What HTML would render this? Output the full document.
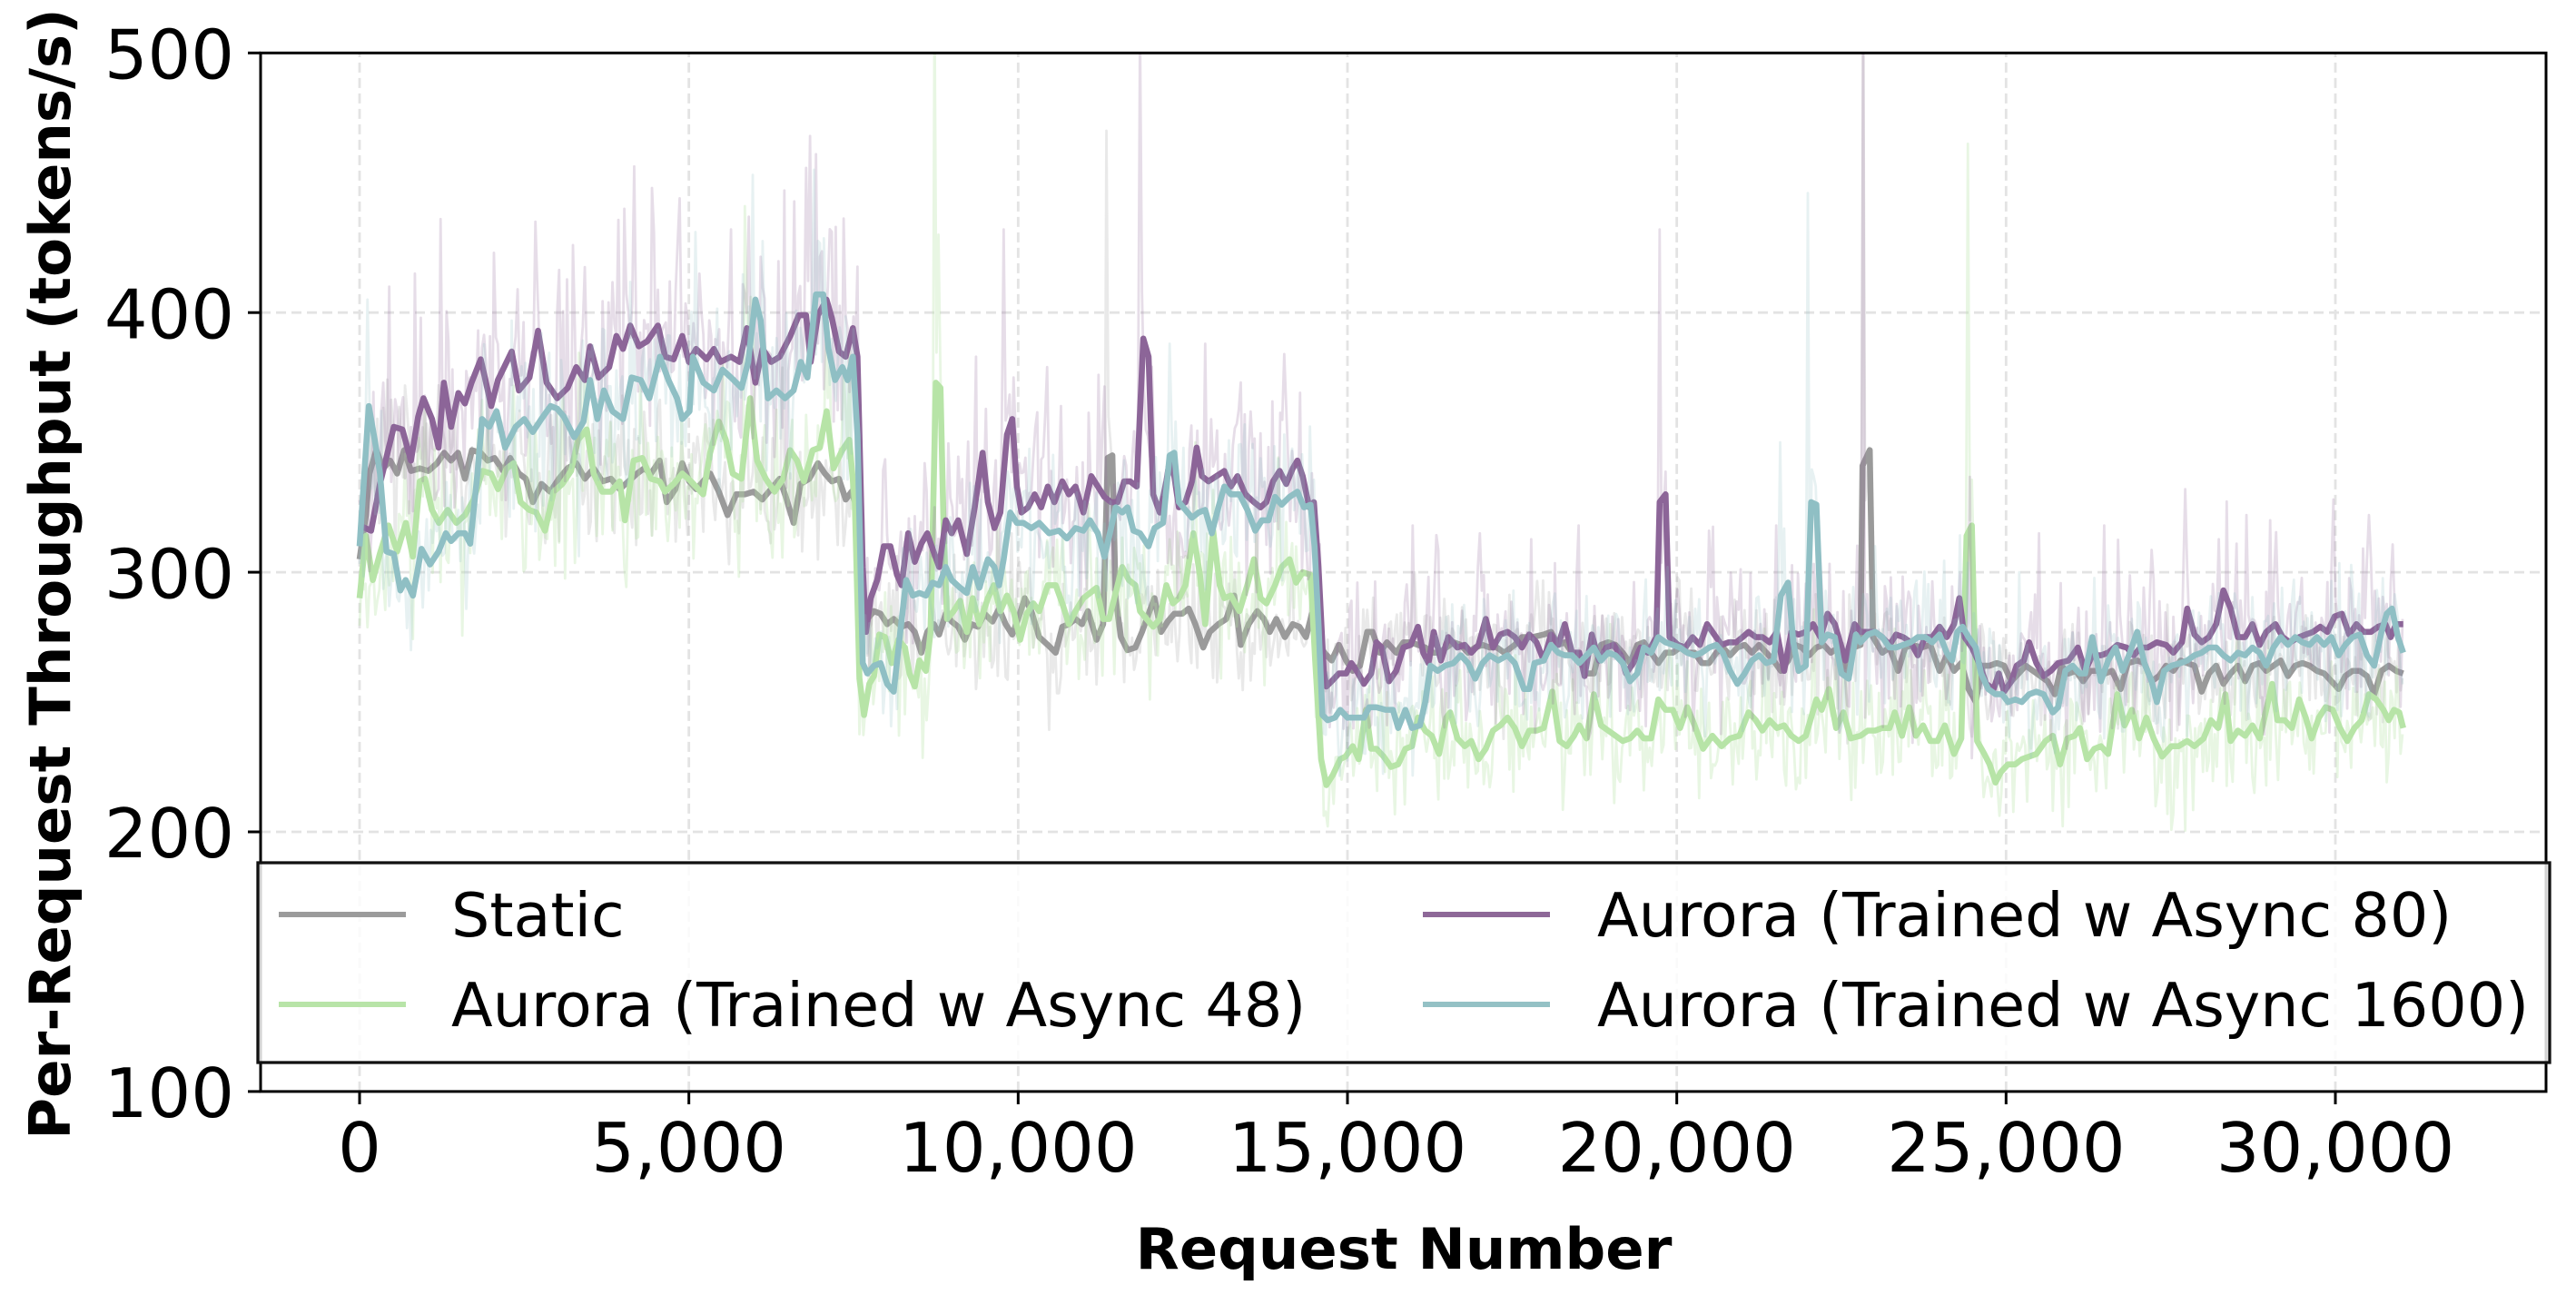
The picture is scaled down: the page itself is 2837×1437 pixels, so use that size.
<!DOCTYPE html>
<html>
<head>
<meta charset="utf-8">
<style>
html,body{margin:0;padding:0;background:#fff;}
svg{display:block;}
text{font-family:"DejaVu Sans","Liberation Sans",sans-serif;fill:#000;}
</style>
</head>
<body>
<svg id="chart" xmlns="http://www.w3.org/2000/svg" width="2837" height="1437" viewBox="0 0 2837 1437">
<defs>
<clipPath id="plotclip"><rect x="287" y="58.3" width="2517" height="1143.6"/></clipPath>
</defs>
<rect x="0" y="0" width="2837" height="1437" fill="#fff"/>

<!-- grid -->
<g stroke="#e3e3e3" stroke-width="2.8" stroke-dasharray="11 6" fill="none">
<line x1="396" y1="1201.9" x2="396" y2="58.3"/>
<line x1="758.67" y1="1201.9" x2="758.67" y2="58.3"/>
<line x1="1121.33" y1="1201.9" x2="1121.33" y2="58.3"/>
<line x1="1484" y1="1201.9" x2="1484" y2="58.3"/>
<line x1="1846.67" y1="1201.9" x2="1846.67" y2="58.3"/>
<line x1="2209.33" y1="1201.9" x2="2209.33" y2="58.3"/>
<line x1="2572" y1="1201.9" x2="2572" y2="58.3"/>
<line x1="287" y1="344.2" x2="2804" y2="344.2"/>
<line x1="287" y1="630.1" x2="2804" y2="630.1"/>
<line x1="287" y1="916" x2="2804" y2="916"/>
</g>

<!-- data -->
<g clip-path="url(#plotclip)">
<g id="data" transform="matrix(7.2533 0 0 -2.859 396 1487.8)" fill="none" stroke-linejoin="round" stroke-linecap="butt">
<polyline id="s-gray" vector-effect="non-scaling-stroke" stroke="#9a9a9a" stroke-width="6.6" points="0,305 0.96,322 1.49,338 2.54,347 3.6,340 4.65,343 5.71,338 6.77,347 7.82,339 9.14,340 10.46,339 11.78,342 12.84,346 13.89,343 14.95,346 16,336 17.06,347 18.38,346 19.44,343 20.5,344 21.81,339 22.87,344 24.19,338 25.25,336 26.3,327 27.62,334 28.94,331 30.26,336 31.58,340 32.9,342 34.22,336 35.54,340 36.86,335 38.18,336 39.5,332 40.82,335 42.14,338 43.2,340 44.25,338 45.57,343 46.63,327 47.95,332 49,342 50.06,335 51.12,332 52.17,335 53.23,338 54.55,331 55.87,322 57.19,330 58.51,330 59.83,331 61.15,328 62.47,332 63.79,336 64.85,328 65.9,319 66.96,334 68.28,336 69.6,342 70.65,338 71.71,335 72.77,336 73.82,328 74.7,331 75.5,325 76.3,290 77.1,282 78.1,285 79.1,284 80.1,280 81.1,282 82.3,279 83.3,280 84.3,277 85.3,269 86.2,277 87.2,280 88,276 89,284 89.9,281 90.9,279 91.9,274 92.9,280 93.9,279 94.9,284 96.1,281 97.1,286 98.1,280 99.1,276 100,282 101,290 102,285 103.2,275 104.5,272 105.7,269 106.7,279 107.7,280 108.7,282 109.7,280 110.6,285 111.9,274 112.9,280 113.6,344 114.3,345 114.8,290 115.6,275 116.6,270 117.8,271 118.8,277 119.8,284 120.7,290 121.7,277 122.7,281 123.7,284 124.9,284 125.9,286 126.9,280 128.1,271 129.1,277 130.4,280 131.6,282 132.8,291 133.8,272 135,280 136.3,285 137.3,282 138.2,277 139.2,282 140.5,275 141.7,280 142.7,279 143.7,275 144.6,284 145.7,272 146.5,269 147.6,266 148.7,272 149.8,266 150.8,262 151.9,264 153,277 153.8,277 154.9,269 156,273 157.4,269 158.5,273 159.6,273 160.7,272 161.8,271 162.8,269 163.9,269 165,271 166.1,273 167.2,272 168.3,269 169.4,271 170.5,272 171.6,271 172.7,271 173.8,269 175.4,272 176.5,275 178.1,275 179.8,276 180.9,277 182,272 183,273 184.1,269 185.2,266 186.3,261 187.4,261 188.5,272 189.6,273 190.7,272 191.8,269 192.9,265 194,272 195,273 196.1,269 197.2,265 198.3,269 199.4,269 200.5,271 201.6,269 202.7,269 203.8,265 204.9,265 206,269 207,271 208.1,268 209.2,271 210.3,272 211.4,269 212.5,272 213.6,269 214.7,266 215.8,262 216.9,266 218,272 219,271 220.1,268 221.2,271 222.3,272 223.4,269 224.5,271 225.6,262 226.8,271 227.9,272 228.2,341 229.3,347 229.8,275 231.2,269 232.3,271 233.6,262 234.7,271 235.8,272 237.2,271 238.5,272 239.9,262 241,268 242.1,262 243.2,265 244.3,255 245.4,250 246.4,264 247.5,264 248.6,265 249.7,264 250.8,258 251.9,261 253,264 254.1,262 255.2,260 256.3,258 257.4,253 258.4,264 259.5,261 260.6,262 261.7,258 262.8,262 263.9,262 265,261 266.1,262 267.4,255 268.5,265 269.9,266 271,265 272.1,258 273.2,260 274.3,264 275.4,262 276.5,266 277.5,265 278.6,264 279.7,254 280.8,261 281.9,264 283,257 284.1,261 285.2,264 286.3,258 287.4,264 288.5,265 289.5,262 290.6,264 291.7,266 292.8,260 293.9,264 295,265 296.1,264 297.2,262 298.3,261 299.4,258 300.5,255 301.5,260 302.6,262 303.7,262 304.8,260 305.9,253 307,262 308.1,264 309.2,262 310.3,261"/>
<polyline id="s-green" vector-effect="non-scaling-stroke" stroke="#b7e4a7" stroke-width="6.6" points="0,290 0.96,314 2.01,297 3.07,307 4.39,318 5.71,308 7.03,319 8.09,306 9.14,335 9.93,336 10.99,324 12.05,319 13.37,324 14.69,319 16,322 17.33,328 18.65,339 19.97,338 21.02,332 22.34,340 23.4,342 24.45,327 25.77,324 26.83,323 28.15,316 29.47,331 30.79,334 32.11,339 33.17,351 34.49,355 35.54,338 36.86,331 38.18,331 39.5,335 40.29,320 41.61,343 42.93,344 44.25,336 45.57,335 46.37,331 47.69,334 49,338 50.33,335 52.17,330 53.23,346 54.55,358 55.61,351 56.66,338 57.98,336 59.3,367 60.36,343 61.68,336 63,331 64.32,336 65.37,347 66.43,343 67.49,335 68.81,347 69.86,348 70.92,362 71.97,340 73.29,347 74.35,351 75.2,327 75.9,259 76.6,245 77.4,257 78.1,260 78.9,276 79.8,275 80.8,265 81.8,274 82.8,271 83.5,261 84.3,256 85,266 86,262 86.7,277 87.5,373 88.2,371 88.7,315 89.2,282 90.2,285 91.2,289 92.2,277 93.1,290 94.1,280 95.4,290 96.3,295 97.3,285 98.3,291 99.3,285 100.3,274 101.3,284 102.3,288 103.2,285 104.5,295 105.7,295 106.7,288 107.7,280 108.7,285 109.9,290 110.9,292 111.9,294 112.9,282 113.8,282 114.8,292 115.8,302 116.8,297 117.8,295 118.5,285 119.5,282 120.5,279 121.5,282 122.5,295 123.5,288 124.4,290 125.4,295 126.6,315 127.6,299 128.4,280 129.6,316 130.6,295 131.3,290 132.3,291 133.6,285 134.8,295 135.8,305 136.8,290 137.7,288 139,295 140,302 141.2,305 142.2,296 143.2,300 144.4,299 145.1,266 146,228 146.8,218 147.8,222 148.9,228 149.7,229 150.8,233 151.7,228 152.8,247 153.6,232 154.4,232 155.5,229 156.6,225 157.7,226 158.8,232 159.8,233 160.7,244 161.8,239 162.8,237 163.9,230 165,244 165.6,246 166.7,236 167.8,233 168.8,235 169.9,228 171,232 172.1,239 173.2,241 174.3,244 175.4,240 176.5,233 177.6,239 178.7,239 179.8,240 181.1,254 182.2,235 183.3,233 184.4,237 185.2,241 186.3,236 187.4,253 188.5,241 189.6,239 190.7,237 191.8,235 192.9,236 194,239 195,236 196.1,236 197.2,251 198.3,247 199.4,247 200.5,240 201.6,248 202.7,241 204,232 205.4,237 206.8,233 208.1,236 209.5,237 210.9,246 212,243 213,239 214.1,243 215.2,240 216.3,241 217.4,237 218.5,235 219.6,237 221.2,251 222,247 223.1,255 224.2,240 225.3,246 226.4,236 227.9,237 229,239 230.1,239 231.2,240 232.3,240 233.1,246 234.2,237 235.3,248 236.3,237 237.4,241 238.5,235 239.6,235 240.7,241 242.1,230 243.2,236 244,314 244.8,318 245.6,235 246.7,230 247.5,226 248.4,219 249.2,223 250.3,226 251.4,226 252.4,228 253.5,229 254.6,230 256,235 257.1,237 258.2,226 259.3,236 260.4,237 261.2,240 262.3,228 263.4,232 264.4,233 265.5,230 266.9,253 268,241 269.1,247 270.2,236 271.3,244 272.4,236 273.7,229 275.1,233 276.2,233 277.5,235 278.6,233 280,236 281.1,243 282.2,240 283.3,253 284.1,235 285.2,239 286.3,237 287.4,241 288.5,236 289.5,247 290.4,257 291.2,243 292.3,243 293.4,240 294.5,251 295.5,244 296.4,236 297.5,244 298.5,248 299.6,247 300.7,240 301.8,235 302.9,240 304,243 305.1,253 306.2,251 307.3,247 308.1,243 308.9,247 309.7,246 310.3,240"/>
<polyline id="s-purple" vector-effect="non-scaling-stroke" stroke="#8c6598" stroke-width="6.6" points="0,318 1.75,316 3.1,334 5.2,356 6.5,355 7.8,343 8.9,360 9.7,367 11,359 12,348 12.8,373 13.9,356 15,369 16,365 17,373 18.4,382 20,364 21,374 23.1,385 24.2,370 25.8,375 27.1,393 28.4,373 30,367 31.6,371 32.9,379 34.2,374 35,387 36.3,375 37.9,379 39,391 40,386 41.1,395 42.4,387 43.7,389 45.3,395 46.4,383 47.7,382 49,391 50,381 51.1,386 52.7,382 53.8,386 54.8,381 56.4,383 57.7,381 58.8,394 60.1,373 61.2,386 62.5,381 63.8,383 65.4,391 66.7,399 67.8,399 68.5,381 69.6,399 70.9,405 71.7,398 72.8,385 73.8,383 74.9,394 75.6,383 76.4,302 76.9,277 77.6,290 78.6,297 79.6,310 80.6,310 81.6,299 82.3,295 83.3,315 84.3,304 85.3,311 86.2,315 87,309 88,302 89,320 89.9,315 90.9,320 92.2,307 93.4,325 94.6,346 95.4,327 96.4,317 97.3,323 98.3,353 99.1,359 99.8,333 100.5,323 101.5,325 102.5,330 103.5,325 104.5,333 105.5,327 106.7,335 107.7,330 108.7,333 109.9,323 111.1,337 112.1,333 113.1,329 114.1,327 115.1,327 116.1,335 117,335 118,333 119,390 119.8,383 120.5,330 121.5,323 122.5,335 123,343 123.7,337 124.4,325 125.4,327 126.4,335 127.1,348 127.9,337 128.9,335 130.1,337 131.3,339 132.3,333 133.3,337 134.5,330 135.8,327 136.8,325 137.7,327 138.7,335 139.7,339 140.7,334 141.7,340 142.4,343 143.2,337 144.2,325 144.9,327 145.6,302 146.4,262 146.8,256 147.6,258 148.7,261 149.8,261 150.6,265 151.4,262 152.5,257 153.6,261 154.4,273 155.2,271 156.3,258 157.4,262 158.5,271 159.6,272 160.7,279 161.5,269 162.3,265 163.1,277 164.2,266 165.3,275 166.7,271 167.8,272 168.8,269 169.9,272 171,282 172.1,271 173.2,276 174.3,277 175.4,275 176.5,271 177.6,276 178.7,273 179.8,266 180.9,276 182,272 183,280 184.1,269 185.2,269 186,260 187.1,276 188.2,266 189.3,271 190.4,272 191.5,268 192.3,261 193.4,265 194.5,271 195.6,269 196.9,275 197.4,327 198.3,330 198.9,275 200.2,272 201.3,271 202.4,275 203.5,272 204.6,280 205.7,276 206.8,272 207.9,273 209,273 210,275 210.9,277 212,275 213,275 214.1,273 215.2,277 216.3,262 217.4,277 218.5,276 219.6,277 220.7,280 221.8,275 222.9,284 224,280 225.6,266 227,280 227.9,277 229,277 230.1,277 231.2,275 232.3,272 233.3,276 234.4,275 235.5,273 236.6,268 237.7,275 238.8,275 239.9,279 241,275 242.1,280 242.9,290 243.7,275 244.8,271 245.9,265 247,257 248.1,255 248.9,261 249.7,254 250.8,258 251.6,264 252.7,266 253.5,273 254.6,265 255.7,260 256.8,262 257.9,265 259.5,266 260.9,271 262,262 263.1,268 264.4,268 265.5,269 266.9,272 268.3,271 269.4,268 270.4,271 271.5,271 272.9,273 274.3,272 275.4,269 276.7,273 277.5,286 278.6,276 279.7,273 280.8,275 281.9,280 283,293 284.1,286 285.2,275 286.3,275 287.4,280 288.5,272 289.5,277 290.9,280 292,275 293.1,273 294.5,275 295.5,276 296.6,277 297.7,279 298.8,277 299.9,283 301,284 302.1,276 303.2,280 304.3,277 305.4,277 306.5,279 307.6,280 308.4,275 309.2,280 310.3,280"/>
<polyline id="s-teal" vector-effect="non-scaling-stroke" stroke="#8fbfc4" stroke-width="6.6" points="0,310 1.4,364 2.3,351 3.1,338 4.1,308 5.2,307 6.2,293 7,297 8.1,291 9.4,309 10.7,303 12,308 13.1,315 13.9,312 15,315 16,315 16.8,311 17.9,338 18.6,359 19.7,356 20.8,362 22.1,348 23.7,356 25,359 26.3,354 27.6,359 29,364 30,363 31,360 32.6,352 34,358 35,374 36.1,359 37.1,370 38.4,362 40,359 41.3,375 42.7,374 44,367 45.6,383 46.9,374 48.2,367 49,359 50.1,362 50.6,383 52.2,373 53.8,370 55.1,378 56.4,375 58,371 59,381 60.1,405 60.9,397 62,367 63.3,370 64.6,367 65.9,370 67,381 68,375 69.3,407 70.4,407 71.2,386 72.2,374 73.3,379 74.1,374 74.9,383 75.6,353 76.4,265 77.1,261 78.1,264 79.1,265 80.1,257 81.1,254 82.1,277 83,297 84,291 85,292 86,291 87,296 88,295 89,302 89.9,297 91.2,294 92.2,292 93.1,302 94.1,294 95.4,305 96.4,302 97.1,295 97.8,305 98.8,323 99.8,319 100.8,319 102,317 103.2,319 104.7,315 106.2,316 107.4,313 108.7,317 109.9,316 110.9,320 112.1,315 113.1,306 114.1,317 114.8,325 115.8,323 116.6,325 117.5,316 118.5,315 119.8,310 120.7,317 122,319 123,345 123.7,346 124.4,327 125.4,324 126.4,321 127.4,323 128.4,324 129.4,315 130.4,325 131.3,333 132.3,330 133.6,330 134.8,324 136,316 137,320 138,320 139,329 140,326 141.2,329 142.4,331 143.4,325 144.4,326 145,310 145.6,280 146.2,245 147,243 148.1,244 148.9,247 150,244 151.4,244 152.5,244 153.3,248 154.4,248 155.8,247 156.9,247 157.7,240 158.8,247 159.8,240 161,241 161.8,250 162.6,264 163.7,262 164.8,264 166.1,265 167.2,268 168.3,265 169.4,259 170.5,265 171.6,268 172.9,266 174.3,268 175.4,265 176.8,255 177.6,255 178.4,265 179.8,266 180.9,272 182,269 183,268 184.1,268 185.2,265 186.3,268 187.4,271 188.5,266 189.6,269 190.7,268 191.8,265 192.9,258 194,261 195,271 196.1,269 197.2,275 198.3,273 199.4,272 200.5,271 201.6,269 202.7,268 203.8,269 204.9,271 206,272 207,269 208.1,262 209.2,257 210.3,261 211.4,266 212.5,268 213.6,265 214.7,266 215.8,291 216.9,296 217.7,273 218.5,262 219.6,264 220.4,327 221.2,326 222,273 222.9,276 224,275 225,261 226.1,259 227.2,276 227.9,273 229,276 230.1,277 231.2,275 232.3,271 233.3,271 234.4,272 235.5,273 236.6,275 237.7,275 238.8,273 239.9,276 241,269 241.8,266 242.6,277 243.4,279 244.3,275 245.4,271 246.2,261 247.3,255 248.4,253 249.4,253 250.3,250 251.4,251 252.4,250 253.5,253 254.6,254 255.7,253 257.1,246 257.9,248 259,262 260.1,264 261.2,261 262,261 263.1,275 264.4,258 265.5,266 266.6,271 267.7,262 268.8,269 269.9,277 271,265 272.1,258 272.9,250 274,262 275.1,264 276.5,265 277.5,266 278.6,268 279.7,269 280.8,271 281.9,271 283,268 284.1,266 285.2,269 286.3,268 287.4,271 288.5,269 289.5,264 290.6,271 291.7,275 292.8,272 293.9,275 295,273 296.1,272 297.2,275 298.3,272 299.4,275 300.5,268 301.5,272 302.6,275 303.7,276 304.8,268 305.9,264 307,277 307.8,284 308.6,286 309.5,275 310.3,269"/>
</g>
</g>

<!-- spines -->
<rect x="287" y="58.3" width="2517" height="1143.6" fill="none" stroke="#000" stroke-width="3"/>

<!-- ticks -->
<g stroke="#000" stroke-width="3">
<line x1="273" y1="58.3" x2="287" y2="58.3"/>
<line x1="273" y1="344.2" x2="287" y2="344.2"/>
<line x1="273" y1="630.1" x2="287" y2="630.1"/>
<line x1="273" y1="916" x2="287" y2="916"/>
<line x1="273" y1="1201.9" x2="287" y2="1201.9"/>
<line x1="396" y1="1201.9" x2="396" y2="1216"/>
<line x1="758.67" y1="1201.9" x2="758.67" y2="1216"/>
<line x1="1121.33" y1="1201.9" x2="1121.33" y2="1216"/>
<line x1="1484" y1="1201.9" x2="1484" y2="1216"/>
<line x1="1846.67" y1="1201.9" x2="1846.67" y2="1216"/>
<line x1="2209.33" y1="1201.9" x2="2209.33" y2="1216"/>
<line x1="2572" y1="1201.9" x2="2572" y2="1216"/>
</g>

<!-- tick labels -->
<g font-size="75" text-anchor="end">
<text x="258" y="86.5">500</text>
<text x="258" y="372.4">400</text>
<text x="258" y="658.3">300</text>
<text x="258" y="944.2">200</text>
<text x="258" y="1230">100</text>
</g>
<g font-size="75" text-anchor="middle">
<text x="396" y="1290">0</text>
<text x="758.67" y="1290">5,000</text>
<text x="1121.33" y="1290">10,000</text>
<text x="1484" y="1290">15,000</text>
<text x="1846.67" y="1290">20,000</text>
<text x="2209.33" y="1290">25,000</text>
<text x="2572" y="1290">30,000</text>
</g>

<!-- axis labels -->
<text x="1546" y="1397" font-size="62.5" font-weight="bold" text-anchor="middle">Request Number</text>
<text transform="translate(77,632) rotate(-90)" font-size="62.5" font-weight="bold" text-anchor="middle">Per-Request Throughput (tokens/s)</text>

<!-- legend -->
<rect x="284" y="950" width="2524" height="220" fill="#fff" fill-opacity="0.82" stroke="#111" stroke-width="3.3"/>
<g stroke-width="6">
<line x1="307" y1="1007" x2="447" y2="1007" stroke="#9b9b9b"/>
<line x1="307" y1="1106" x2="447" y2="1106" stroke="#b8e4a8"/>
<line x1="1567" y1="1007" x2="1707" y2="1007" stroke="#8e6898"/>
<line x1="1567" y1="1106" x2="1707" y2="1106" stroke="#94c1c5"/>
</g>
<g font-size="66.7">
<text x="497" y="1031">Static</text>
<text x="497" y="1130">Aurora (Trained w Async 48)</text>
<text x="1759" y="1031">Aurora (Trained w Async 80)</text>
<text x="1759" y="1130">Aurora (Trained w Async 1600)</text>
</g>
</svg>
<script>
(function(){
  function mulberry(a){return function(){a|=0;a=a+0x6D2B79F5|0;var t=Math.imul(a^(a>>>15),1|a);t=(t+Math.imul(t^(t>>>7),61|t))^t;return((t^(t>>>14))>>>0)/4294967296;};}
  var S=[
    ['gray',0.07,'#9a9a9a',0.22,7,[[113.5,470],[228.2,520],[12,372],[40,368],[99,315],[160,300],[200,298]]],
    ['green',0.09,'#b7e4a7',0.32,19,[[87.3,520],[87.8,430],[58.5,441],[244.1,465],[74.5,390],[127,350],[190,280]]],
    ['purple',0.1,'#8c6598',0.22,31,[[4.4,410],[8.4,415],[12.3,436],[20.4,423],[26.7,435],[32.4,426],[40.3,440],[44.4,448],[48.5,444],[56.3,432],[64.4,447],[68.4,468],[69.2,461],[72.2,433],[93.6,383],[97.8,432],[104.5,379],[112.1,376],[118.6,510],[128.4,388],[140.5,384],[197.4,432],[228.4,510],[277.3,332],[299.6,328],[160,318],[170,315],[185,318],[205,316],[215,318],[255,315],[265,318],[290,320],[305,322]]],
    ['teal',0.085,'#92c0c5',0.22,47,[[1.2,405],[59.6,453],[69.1,455],[123,388],[215.6,350],[219.9,446],[252,300],[230,310]]]
  ];
  var NS='http://www.w3.org/2000/svg';
  S.forEach(function(s){
    var pl=document.getElementById('s-'+s[0]); if(!pl) return;
    var P=pl.getAttribute('points').trim().split(/\s+/).map(function(p){var q=p.split(',');return [+q[0],+q[1]];});
    var r=mulberry(s[4]); var step=0.3; var out=[]; var j=0;
    var h0=P[0][0], h1=P[P.length-1][0];
    for(var h=h0; h<=h1; h+=step){
      while(j<P.length-2 && P[j+1][0]<h) j++;
      var a=P[j], b=P[j+1]; var t=(h-a[0])/(b[0]-a[0]); if(t<0)t=0; if(t>1)t=1;
      var v=a[1]+(b[1]-a[1])*t;
      var n=(r()+r()+r()+r()-2);
      if(r()<0.03) n+=r()*1.2;
      out.push([h, v + s[1]*v*n]);
    }
    s[5].forEach(function(sp){var i=Math.round((sp[0]-h0)/step); if(i>=0&&i<out.length) out[i][1]=sp[1];});
    var e=document.createElementNS(NS,'polyline');
    e.setAttribute('points', out.map(function(p){return p[0].toFixed(2)+','+p[1].toFixed(1);}).join(' '));
    e.setAttribute('fill','none');
    e.setAttribute('stroke',s[2]);
    e.setAttribute('stroke-opacity',s[3]);
    e.setAttribute('stroke-width','2.8');
    e.setAttribute('vector-effect','non-scaling-stroke');
    e.setAttribute('stroke-linejoin','round');
    pl.parentNode.insertBefore(e,pl);
  });
})();
</script>
</body>
</html>
